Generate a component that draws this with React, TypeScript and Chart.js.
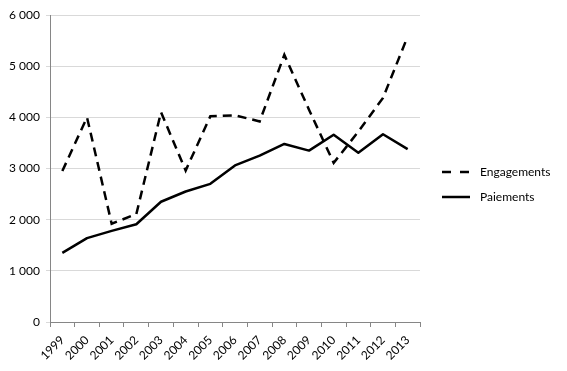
import React, { useEffect, useRef } from 'react';
import { Chart, registerables } from 'chart.js';

Chart.register(...registerables);

const years = ['1999', '2000', '2001', '2002', '2003', '2004', '2005', '2006', '2007', '2008', '2009', '2010', '2011', '2012', '2013'];
const engagements = [2950, 4000, 1920, 2110, 4100, 2960, 4020, 4040, 3920, 5220, 4150, 3110, 3720, 4380, 5580];
const paiements = [1350, 1640, 1780, 1910, 2350, 2550, 2700, 3060, 3250, 3480, 3350, 3660, 3310, 3670, 3380];
const yMin = 0;
const yMax = 6000;
const yStep = 1000;

const FONT = 'Lato, "Open Sans", sans-serif';

const fmt = (v: number) => {
  const s = String(Math.round(v));
  return s.replace(/\B(?=(\d{3})+(?!\d))/g, ' ');
};

const sideLegend = {
  id: 'sideLegend',
  afterDraw(chart: any) {
    const ctx = chart.ctx;
    const x0 = chart.chartArea.right + 22;
    let y = 172;
    chart.data.datasets.forEach((ds: any) => {
      ctx.save();
      ctx.strokeStyle = ds.borderColor;
      ctx.lineWidth = ds.borderWidth;
      ctx.setLineDash(ds.borderDash ? [9, 9] : []);
      ctx.beginPath();
      ctx.moveTo(x0, y);
      ctx.lineTo(x0 + 28, y);
      ctx.stroke();
      ctx.setLineDash([]);
      ctx.fillStyle = '#000';
      ctx.font = '12px ' + FONT;
      ctx.textBaseline = 'middle';
      ctx.textAlign = 'left';
      ctx.fillText(ds.label, x0 + 38, y);
      ctx.restore();
      y += 25;
    });
  },
};

export default function App() {
  const ref = useRef<HTMLCanvasElement | null>(null);
  useEffect(() => {
    if (!ref.current) return;
    const chart = new Chart(ref.current, {
      type: 'line',
      data: {
        labels: years,
        datasets: [
          {
            label: 'Engagements',
            data: engagements,
            borderColor: '#000',
            borderWidth: 2.5,
            borderDash: [9, 6],
            pointRadius: 0,
            tension: 0,
            fill: false,
          },
          {
            label: 'Paiements',
            data: paiements,
            borderColor: '#000',
            borderWidth: 2.5,
            pointRadius: 0,
            tension: 0,
            borderJoinStyle: 'round',
            fill: false,
          },
        ],
      },
      options: {
        responsive: false,
        animation: false,
        layout: { padding: { top: 15, right: 147, left: 0, bottom: 0 } },
        plugins: {
          legend: { display: false },
          tooltip: { enabled: false },
        },
        scales: {
          x: {
            type: 'category',
            offset: true,
            grid: {
              offset: true,
              drawOnChartArea: false,
              drawTicks: true,
              tickLength: 5,
              color: '#868686',
            },
            border: { color: '#868686' },
            ticks: {
              minRotation: 45,
              maxRotation: 45,
              autoSkip: false,
              padding: 6,
              color: '#000',
              font: { family: FONT, size: 12 },
            },
            afterFit: (s: any) => {
              s.height = 49;
            },
          },
          y: {
            min: yMin,
            max: yMax,
            ticks: {
              stepSize: yStep,
              padding: 6,
              color: '#000',
              font: { family: FONT, size: 12 },
              callback: (v: any) => fmt(Number(v)),
            },
            grid: { color: '#d9d9d9', tickLength: 4 },
            border: { color: '#868686' },
            afterFit: (s: any) => {
              s.width = 50;
            },
          },
        },
      },
      plugins: [sideLegend],
    } as any);
    return () => chart.destroy();
  }, []);
  return (
    <div style={{ position: 'fixed', left: 0, top: 0, width: 567, height: 371, background: '#fff' }}>
      <canvas ref={ref} width={567} height={371} style={{ display: 'block' }} />
    </div>
  );
}
